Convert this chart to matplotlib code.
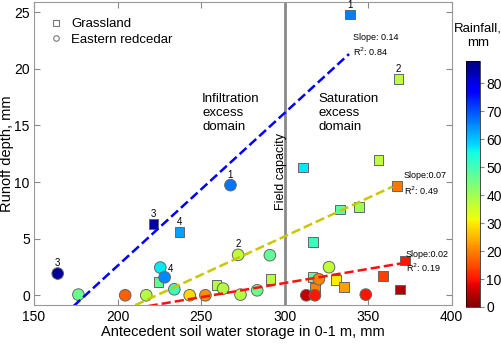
import numpy as np
import matplotlib
matplotlib.use("Agg")
import matplotlib.pyplot as plt
from matplotlib.lines import Line2D

plt.rcParams['font.family'] = ['Liberation Sans', 'DejaVu Sans']

# Grassland plots (squares)
grass_x = [339, 368.1, 221.6, 237, 311, 356.2, 367.2, 333, 344.5, 317,
           291.6, 316.8, 330.6, 318.2, 335.4, 359, 372, 369, 224.6, 259.2]
grass_y = [24.8, 19.1, 6.3, 5.6, 11.3, 11.95, 9.67, 7.58, 7.8, 4.72,
           1.42, 1.62, 1.33, 0.65, 0.74, 1.68, 3.07, 0.5, 1.18, 0.91]
grass_rain = [66, 37, 86, 63, 57, 37, 19, 48, 40, 51,
              37, 47, 30, 20, 23, 14, 10, 4, 47, 38]
grass_labels = ['1', '2', '3', '4', '', '', '', '', '', '',
                '', '', '', '', '', '', '', '', '', '']

# Eastern redcedar plots (circles)
cedar_x = [164.2, 176.6, 267.6, 272.2, 225.6, 228.2, 234, 204.6, 217.2, 243.2,
           252.6, 263.2, 273.6, 283.6, 291.2, 326.6, 320.5, 313, 318.2, 348.6]
cedar_y = [1.92, 0.06, 9.73, 3.57, 2.45, 1.59, 0.53, 0.0, 0.0, 0.0,
           0.0, 0.59, 0.06, 0.44, 3.54, 2.48, 1.42, 0.0, 0.0, 0.06]
cedar_rain = [86, 46, 67, 37, 57, 65, 51, 17, 38, 28,
              21, 38, 38, 46, 47, 37, 20, 5, 10, 10]
cedar_labels = ['3', '', '1', '2', '', '4', '', '', '', '',
                '', '', '', '', '', '', '', '', '', '']

# regression lines
fit_slopes = [0.135, 0.068, 0.0249]
fit_intercepts = [-24.4, -15.2, -6.39]
fit_start = [173.6, 210.6, 218.6]
fit_end = [338.6, 364.6, 371.0]
fit_colors = ['#0000ff', '#c8c800', '#ff1010']
fit_slope_text = ['Slope: 0.14', 'Slope:0.07', 'Slope:0.02']
fit_r2_text = ['R$^2$: 0.84', 'R$^2$: 0.49', 'R$^2$: 0.19']

field_capacity = 300
rain_max = 88

fig = plt.figure(figsize=(5.02, 3.44), dpi=100)
ax = fig.add_axes([0.0677, 0.112, 0.832, 0.882])
cax = fig.add_axes([0.928, 0.1076, 0.0285, 0.715])

ax.axvline(field_capacity, color='#8a8a8a', lw=2, zorder=1)

sc = ax.scatter(grass_x, grass_y, c=grass_rain, cmap='jet_r', vmin=0, vmax=rain_max,
                marker='s', s=48, edgecolors='#666666', linewidths=0.7, zorder=3)
ax.scatter(cedar_x, cedar_y, c=cedar_rain, cmap='jet_r', vmin=0, vmax=rain_max,
           marker='o', s=70, edgecolors='#666666', linewidths=0.7, zorder=4)

# regression lines with slope/R2 notes
slope_off = [(3, 12), (8, 8), (2, 6.3)]
r2_off = [(3, 1.7), (8, -3), (2, -3.7)]
for i in range(len(fit_slopes)):
    xs = np.array([fit_start[i], fit_end[i]])
    ys = fit_slopes[i] * xs + fit_intercepts[i]
    ax.plot(xs, ys, ls='--', color=fit_colors[i], lw=1.8, zorder=5)
    ax.annotate(fit_slope_text[i], (xs[1], ys[1]), xytext=slope_off[i],
                textcoords='offset points', fontsize=6.5, va='center', ha='left')
    ax.annotate(fit_r2_text[i], (xs[1], ys[1]), xytext=r2_off[i],
                textcoords='offset points', fontsize=6.5, va='center', ha='left')

# event numbers
for x, y, lab in zip(grass_x, grass_y, grass_labels):
    if lab:
        ax.annotate(lab, (x, y), xytext=(0, 7), textcoords='offset points',
                    fontsize=7, ha='center', va='center')
for x, y, lab in zip(cedar_x, cedar_y, cedar_labels):
    if lab == '4':
        ax.annotate(lab, (x, y), xytext=(4, 6), textcoords='offset points',
                    fontsize=7, ha='center', va='center')
    elif lab:
        ax.annotate(lab, (x, y), xytext=(0, 7.5), textcoords='offset points',
                    fontsize=7, ha='center', va='center')

ax.text(250.6, 17.9, 'Infiltration\nexcess\ndomain', fontsize=9.5, va='top', ha='left',
        linespacing=1.25)
ax.text(320.4, 17.9, 'Saturation\nexcess\ndomain', fontsize=9.5, va='top', ha='left',
        linespacing=1.25)
ax.text(297.8, 10.9, 'Field capacity', rotation=90, fontsize=9, ha='center', va='center')

ax.set_xlim(150, 400)
ax.set_ylim(-0.9, 25.9)
ax.set_xticks([150, 200, 250, 300, 350, 400])
ax.set_yticks([0, 5, 10, 15, 20, 25])
ax.tick_params(direction='in', top=True, right=True, color='#888888', labelsize=10,
               length=4, pad=3)
for sp in ax.spines.values():
    sp.set_color('#999999')
ax.set_xlabel('Antecedent soil water storage in 0-1 m, mm', fontsize=10.5, labelpad=1)
ax.set_ylabel('Runoff depth, mm', fontsize=10.5, labelpad=0)

handles = [Line2D([], [], ls='', marker='s', mfc='none', mec='#777777', ms=4, mew=0.8),
           Line2D([], [], ls='', marker='o', mfc='none', mec='#777777', ms=4, mew=0.8)]
ax.legend(handles, ['Grassland', 'Eastern redcedar'], loc='upper left', frameon=False,
          fontsize=9.5, handletextpad=0.6, borderaxespad=0.8, labelspacing=0.25,
          handlelength=1.0)

cb = fig.colorbar(sc, cax=cax)
cb.set_ticks(range(0, 90, 10))
cb.ax.tick_params(labelsize=10, length=3, pad=1.5, color='#888888')
cb.outline.set_linewidth(0.5)
fig.text(0.952, 0.895, 'Rainfall,\nmm', ha='center', va='center', fontsize=9.5,
         linespacing=1.3)

fig.savefig('out.png', dpi=100)
